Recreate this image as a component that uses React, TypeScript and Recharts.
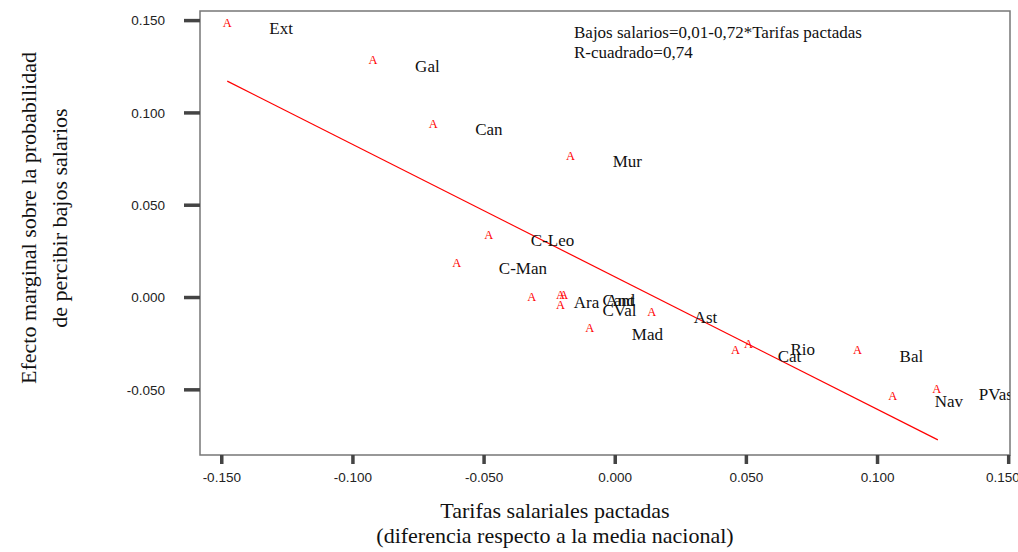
import { ScatterChart, Scatter, XAxis, YAxis, ReferenceLine, ReferenceArea } from 'recharts';

const regiones = ['Ext', 'Gal', 'Can', 'Mur', 'C-Leo', 'C-Man', 'Ara', 'Cant', 'And', 'CVal', 'Mad', 'Ast', 'Cat', 'Rio', 'Bal', 'Nav', 'PVas'];
const tarifas = [-0.1479, -0.0923, -0.0694, -0.017, -0.0482, -0.0604, -0.0318, -0.0209, -0.0196, -0.0209, -0.0097, 0.0139, 0.0459, 0.0508, 0.0924, 0.1058, 0.1226];
const efectos = [0.1492, 0.1289, 0.0943, 0.0771, 0.0344, 0.0192, 0.0008, 0.0019, 0.0019, -0.0037, -0.0163, -0.0075, -0.0284, -0.0248, -0.0284, -0.0528, -0.0491];

// recta de ajuste, extremos
const ajuste = [
  { x: -0.1479, y: 0.1172 },
  { x: 0.123, y: -0.0771 },
];

const xTicks = [-0.15, -0.1, -0.05, 0, 0.05, 0.1, 0.15];
const yTicks = [-0.05, 0, 0.05, 0.1, 0.15];
const xDomain = [-0.1583, 0.1505];
const yDomain = [-0.0853, 0.1552];

const data = regiones.map((name, i) => ({ name, x: tarifas[i], y: efectos[i] }));

const serif = '"Liberation Serif", "Times New Roman", serif';
const sans = '"Liberation Sans", Arial, sans-serif';

const Punto = (props: any) => {
  const { cx, cy, payload } = props;
  return (
    <g>
      <text x={cx} y={cy + 4.5} textAnchor="middle" fill="#ff0000" fontSize={12.5} fontFamily={serif}>
        A
      </text>
      <text x={cx + 42} y={cy + 12} fill="#111" fontSize={17} fontFamily={serif}>
        {payload.name}
      </text>
    </g>
  );
};

const App = () => {
  return (
    <div style={{ position: 'absolute', left: 0, top: 0, width: 1018, height: 552, background: '#fff' }}>
      <ScatterChart width={1018} height={552} margin={{ top: 11, right: 8, bottom: 0, left: 0 }}>
        <XAxis
          type="number"
          dataKey="x"
          domain={xDomain}
          ticks={xTicks}
          allowDataOverflow
          height={97}
          axisLine={false}
          tickSize={9}
          tickMargin={8}
          tickLine={{ stroke: '#444', strokeWidth: 3.5 }}
          tick={{ fill: '#222', fontSize: 13.5, fontFamily: sans }}
          tickFormatter={(v: number) => v.toFixed(3)}
        />
        <YAxis
          type="number"
          dataKey="y"
          domain={yDomain}
          ticks={yTicks}
          allowDataOverflow
          width={200}
          axisLine={false}
          tickSize={16}
          tickMargin={19}
          tickLine={{ stroke: '#444', strokeWidth: 3.5 }}
          tick={{ fill: '#222', fontSize: 13.5, fontFamily: sans }}
          tickFormatter={(v: number) => v.toFixed(3)}
        />
        <ReferenceArea
          x1={xDomain[0]}
          x2={xDomain[1]}
          y1={yDomain[0]}
          y2={yDomain[1]}
          fill="none"
          fillOpacity={0}
          stroke="#777"
          strokeWidth={1.5}
        />
        <ReferenceLine segment={ajuste} stroke="#ff0000" strokeWidth={1.2} />
        <Scatter data={data} shape={Punto} isAnimationActive={false} />
      </ScatterChart>
      <svg width={1018} height={552} style={{ position: 'absolute', left: 0, top: 0, pointerEvents: 'none' }}>
        <g fontFamily={serif} fill="#111">
          <text x={574} y={38} fontSize={17}>Bajos salarios=0,01-0,72*Tarifas pactadas</text>
          <text x={574} y={58} fontSize={17}>R-cuadrado=0,74</text>
          <text x={555} y={518} fontSize={22} textAnchor="middle">Tarifas salariales pactadas</text>
          <text x={555} y={543} fontSize={22} textAnchor="middle">(diferencia respecto a la media nacional)</text>
          <text transform="translate(36,218) rotate(-90)" fontSize={22} textAnchor="middle">
            Efecto marginal sobre la probabilidad
          </text>
          <text transform="translate(67,218) rotate(-90)" fontSize={22} textAnchor="middle">
            de percibir bajos salarios
          </text>
        </g>
      </svg>
    </div>
  );
};

export default App;
